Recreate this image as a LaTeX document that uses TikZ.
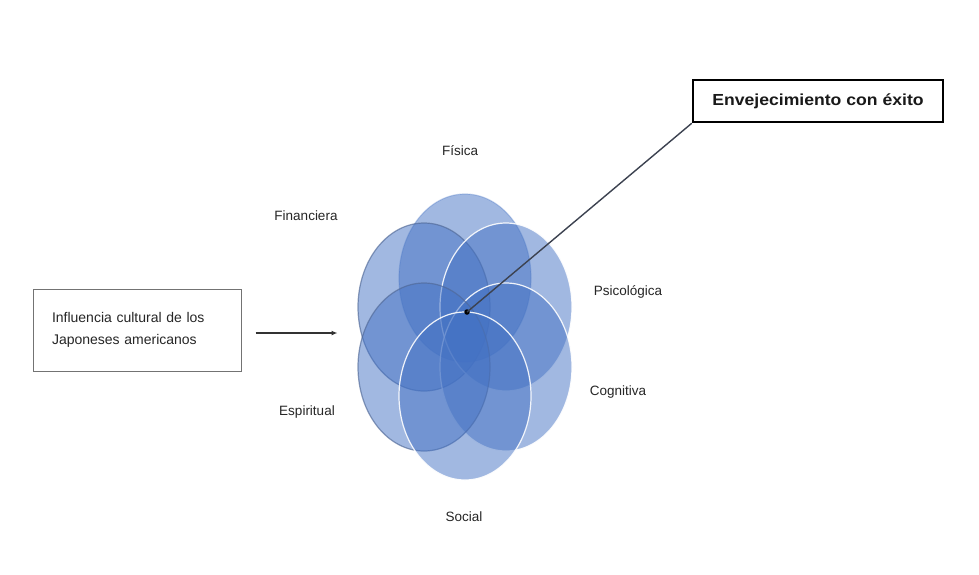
\documentclass[tikz,border=0pt]{standalone}
\usepackage{fontspec}
\setmainfont{Liberation Sans}
\usetikzlibrary{shapes.geometric,arrows.meta}
\definecolor{petal}{RGB}{68,114,196}
\definecolor{petaldark}{RGB}{80,104,150}
\definecolor{linkgray}{RGB}{60,66,80}
\begin{document}
\begin{tikzpicture}[x=1pt,y=-1pt,
  petalnode/.style={ellipse,minimum width=132pt,minimum height=168pt,inner sep=0pt,
    fill=petal,fill opacity=0.5,line width=1.2pt},
  darkrim/.style={draw=petaldark,draw opacity=0.65},
  whiterim/.style={draw=white,draw opacity=0.9},
  softrim/.style={draw=petal,draw opacity=0.3},
  lbl/.style={font=\fontsize{13.5}{16}\selectfont,text=black!85,inner sep=0pt},
]
\useasboundingbox[fill=white] (0,0) rectangle (979,574);

% petals
\node[petalnode,softrim]  (fisica)      at (465,278) {};
\node[petalnode,darkrim]  (financiera)  at (424,307) {};
\node[petalnode,whiterim] (psicologica) at (506,307) {};
\node[petalnode,whiterim] (cognitiva)   at (506,367) {};
\node[petalnode,darkrim]  (espiritual)  at (424,367) {};
\node[petalnode,whiterim] (social)      at (465,396) {};

% labels
\node[lbl] (lfis) at (460,151) {Física};
\node[lbl] (lfin) at (306,216) {Financiera};
\node[lbl] (lpsi) at (628,292) {Psicológica};
\node[lbl] (lcog) at (618,392) {Cognitiva};
\node[lbl] (lesp) at (307,412) {Espiritual};
\node[lbl] (lsoc) at (464,517) {Social};

% goal box
\node[draw=black,line width=2.5pt,minimum width=250pt,minimum height=42pt,inner sep=0pt,
  font=\fontsize{16}{18}\selectfont\bfseries,text=black!90] (goal) at (818,101)
  {\addfontfeatures{FakeStretch=1.1}Envejecimiento con éxito};

% influence box
\node[draw=black!55,line width=1pt,minimum width=208pt,minimum height=82pt,inner sep=0pt,
  text width=170pt,align=left,font=\fontsize{14}{22}\selectfont,text=black!85] (infl) at (137,330)
  {Influencia cultural de los\\Japoneses americanos};

% hub and connectors
\node[circle,fill=black,inner sep=0pt,minimum size=5.5pt] (hub) at (467,312) {};
\coordinate (arrowstart) at ([xshift=14pt,yshift=-3pt]infl.east);
\coordinate (arrowend) at ([xshift=96pt,yshift=-3pt]infl.east);
\draw[linkgray,line width=1.4pt] (goal.south west) -- (hub.center);
\draw[black!80,line width=1.2pt,-{Latex[length=6pt,width=5pt]}] (arrowstart) -- (arrowend);
\end{tikzpicture}
\end{document}
